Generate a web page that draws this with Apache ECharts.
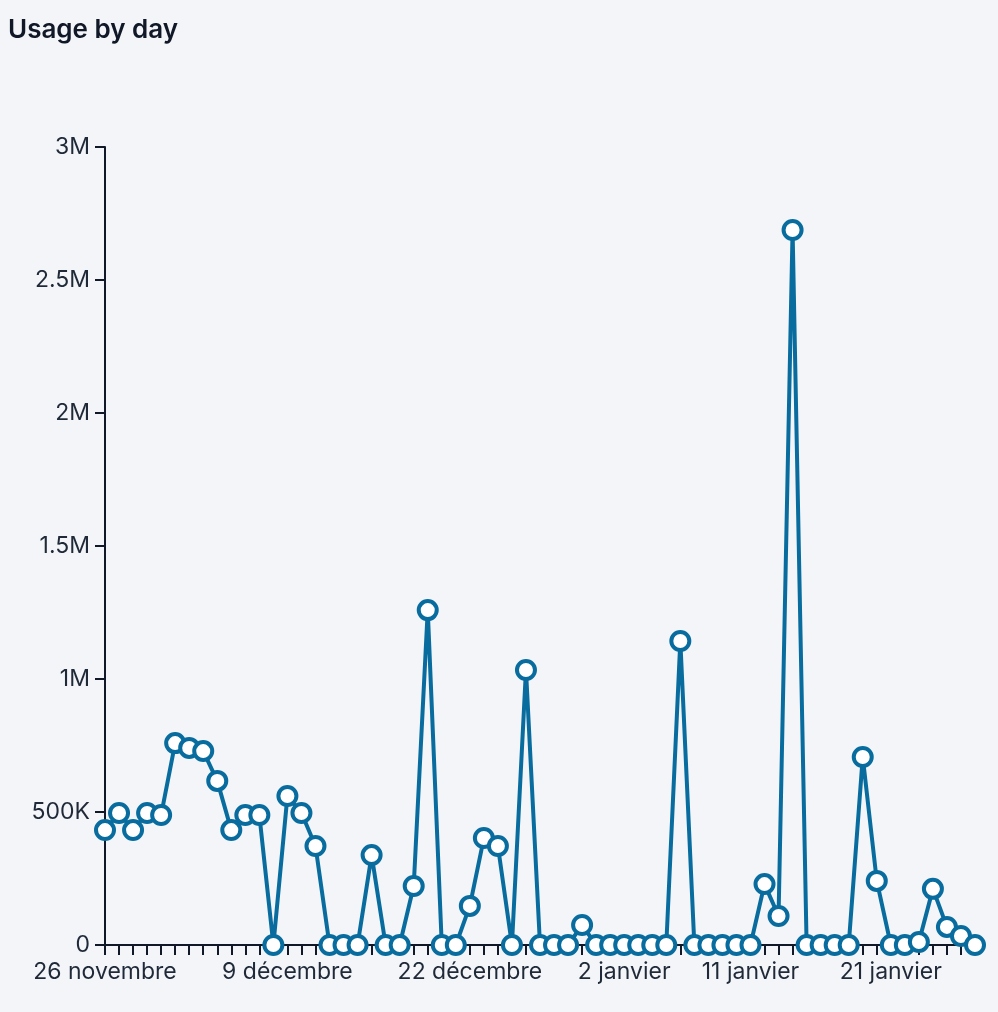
<!DOCTYPE html>
<html>
<head>
<meta charset="utf-8">
<script src="https://cdn.jsdelivr.net/npm/echarts@6/dist/echarts.min.js"></script>
<style>
  html, body { margin: 0; padding: 0; background: #f3f5f9; }
  #chart { width: 998px; height: 1012px; }
</style>
</head>
<body>
<div id="chart"></div>
<script>
// Data
const startDate = "2024-11-26";
const dayCount = 63;
const usage = [
  432000, 496000, 432000, 496000, 489000, 759000, 741000, 729000, 617000, 432000,
  489000, 489000, 0, 560000, 496000, 372000, 0, 0, 0, 338000,
  0, 0, 222000, 1259000, 0, 0, 147000, 402000, 372000, 0,
  1034000, 0, 0, 0, 75000, 0, 0, 0, 0, 0,
  0, 1143000, 0, 0, 0, 0, 0, 229000, 109000, 2688000,
  0, 0, 0, 0, 707000, 241000, 0, 0, 11000, 211000,
  68000, 34000, 0
];
const labeledDates = ["2024-11-26", "2024-12-09", "2024-12-22", "2025-01-02", "2025-01-11", "2025-01-21"];
const monthNames = ["janvier", "février", "mars", "avril", "mai", "juin", "juillet", "août", "septembre", "octobre", "novembre", "décembre"];
const yTicks = [0, 500000, 1000000, 1500000, 2000000, 2500000, 3000000];

// Categories: consecutive days
const categories = [];
{
  const d0 = new Date(startDate + "T00:00:00Z");
  for (let i = 0; i < dayCount; i++) {
    const d = new Date(d0.getTime() + i * 86400000);
    categories.push(d.toISOString().slice(0, 10));
  }
}

function fmtDate(iso) {
  const d = new Date(iso + "T00:00:00Z");
  return d.getUTCDate() + " " + monthNames[d.getUTCMonth()];
}
function fmtVal(v) {
  if (v === 0) return "0";
  if (v >= 1000000) return (v / 1000000) + "M";
  return (v / 1000) + "K";
}

const axisColor = "#111827";
const textColor = "#1f2937";
const lineColor = "#086c9e";
const font = "Inter, 'Noto Sans', sans-serif";

const chart = echarts.init(document.getElementById("chart"), null, { renderer: "canvas" });
chart.setOption({
  backgroundColor: "#f3f5f9",
  animation: false,
  title: {
    text: "Usage by day",
    left: 3,
    top: 12,
    textStyle: { fontFamily: font, fontSize: 26, fontWeight: 600, color: "#111827" }
  },
  grid: { left: 105, right: 23, top: 147, bottom: 67, containLabel: false, outerBoundsMode: "none" },
  xAxis: {
    type: "category",
    data: categories,
    boundaryGap: false,
    axisLine: { show: true, lineStyle: { color: axisColor, width: 2 } },
    axisTick: { show: true, interval: 0, length: 10, lineStyle: { color: axisColor, width: 2 } },
    axisLabel: {
      interval: (idx, val) => labeledDates.includes(val),
      formatter: (val) => fmtDate(val),
      fontFamily: font,
      fontSize: 23,
      color: textColor,
      margin: 16
    },
    splitLine: { show: false }
  },
  yAxis: {
    type: "value",
    min: yTicks[0],
    max: yTicks[yTicks.length - 1],
    interval: yTicks[1] - yTicks[0],
    axisLine: { show: true, lineStyle: { color: axisColor, width: 2 } },
    axisTick: { show: true, length: 10, lineStyle: { color: axisColor, width: 2 } },
    axisLabel: {
      formatter: fmtVal,
      fontFamily: font,
      fontSize: 23,
      color: textColor,
      margin: 15
    },
    splitLine: { show: false }
  },
  series: [{
    type: "line",
    data: usage,
    symbol: "circle",
    symbolSize: 18,
    showAllSymbol: true,
    lineStyle: { color: lineColor, width: 4 },
    itemStyle: { color: "#ffffff", borderColor: lineColor, borderWidth: 4 },
    z: 3
  }]
});
</script>
</body>
</html>
